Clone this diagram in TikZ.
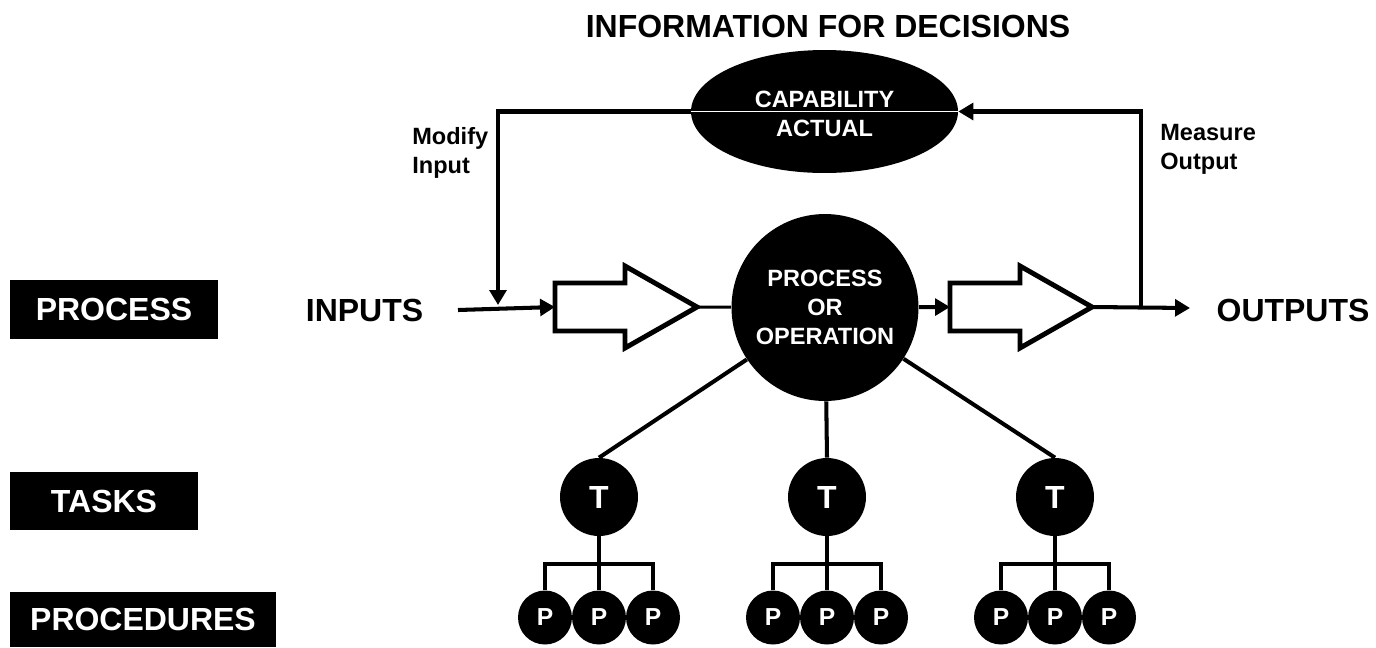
\documentclass[tikz,border=0pt]{standalone}
\usepackage{fontspec}
\setmainfont{Liberation Sans}
\usetikzlibrary{arrows.meta,positioning,shapes.geometric}
\newcommand{\bigtxt}{\fontsize{18.2}{22}\selectfont\bfseries}
\newcommand{\midtxt}{\fontsize{13.4}{16.5}\selectfont\bfseries}
\newcommand{\ptxt}{\fontsize{14}{16}\selectfont\bfseries}
\tikzset{
	rowbox/.style={fill=black,text=white,inner sep=0pt,font=\bigtxt},
	opcircle/.style={circle,fill=black,text=white,inner sep=0pt,minimum size=3.74cm,align=center,font=\midtxt},
	capoval/.style={ellipse,fill=black,text=white,inner sep=0pt,minimum width=5.34cm,minimum height=2.46cm,align=center,font=\midtxt},
	taskdot/.style={circle,fill=black,text=white,inner sep=0pt,minimum size=1.56cm,font=\bigtxt},
	procdot/.style={circle,fill=black,text=white,inner sep=0pt,minimum size=1.08cm,font=\ptxt},
	flow/.style={line width=2.3pt},
	tree/.style={line width=2.3pt},
	blockarr/.style={line width=2.8pt,fill=white},
	-tri/.style={-{Triangle[length=8.5pt,width=9.5pt]}}
}

\begin{document}
\begin{tikzpicture}[x=0.02cm,y=-0.02cm]
	\useasboundingbox (0,0) rectangle (1376,647);

	% row labels
	\node[rowbox,minimum width=4.16cm,minimum height=1.18cm] (rowproc) at (114,309.5) {PROCESS};
	\node[rowbox,minimum width=3.76cm,minimum height=1.16cm] (rowtask) at (104,501) {TASKS};
	\node[rowbox,minimum width=5.32cm,minimum height=1.1cm] (rowpro) at (143,619.5) {PROCEDURES};

	\node[font=\bigtxt] (title) at (828,26) {INFORMATION FOR DECISIONS};
	\node[capoval] (cap) at (824.5,111.5) {};
	\node[text=white,font=\midtxt,align=center] (captxt) at (824.5,114) {CAPABILITY\\ACTUAL};
	\node[font=\midtxt,align=left,anchor=north west,inner sep=0pt] (modify) at (412,127) {Modify\\Input};
	\node[font=\midtxt,align=left,anchor=north west,inner sep=0pt] (measure) at (1160,124) {Measure\\Output};

	\node[font=\bigtxt] (inputs) at (364.5,310) {INPUTS};
	\node[font=\bigtxt] (outputs) at (1293,310) {OUTPUTS};
	\node[opcircle] (proc) at (825,307.5) {PROCESS\\OR\\OPERATION};

	% block arrows
	\foreach \name/\x in {inarrow/555,outarrow/950}{
		\draw[blockarr] (\x,283) -- ++(70,0) -- ++(0,-17) -- ++(72,41) -- ++(-72,41) -- ++(0,-17) -- ++(-70,0) -- cycle;
		\coordinate (\name-w) at (\x,307);
		\coordinate (\name-e) at (\x+142,307);
	}

	\coordinate (instart) at (458,310);
	\coordinate (merge) at (498,305);
	\coordinate (split) at (1141,308);
	\coordinate (outend) at (1190,308);

	\draw[flow,-tri] (instart) -- (inarrow-w);
	\draw[line width=1.7pt] (inarrow-e) -- (proc);
	\draw[flow,-tri] (proc) -- (outarrow-w);
	\draw[flow,-tri] (outarrow-e) -- (outend);
	\draw[flow,-tri] (cap.west) -| (merge);
	\draw[flow,-tri] (split) |- (cap.east);
	\draw[white,line width=1.1pt] (cap.west) -- (cap.east);

	% tasks and procedures
	\coordinate (bar) at (0,564);
	\foreach \i/\x in {1/599,2/827,3/1055}{
		\node[taskdot] (t\i) at (\x,497) {T};
		\foreach \j/\dx in {1/-54,2/0,3/54}
			\node[procdot] (p\i\j) at (\x+\dx,617.5) {P};
		\draw[tree] (proc) -- (t\i.north);
		\draw[tree] (t\i) -- (p\i2);
		\draw[tree] (p\i1) |- (t\i |- bar) -| (p\i3);
	}
\end{tikzpicture}
\end{document}
